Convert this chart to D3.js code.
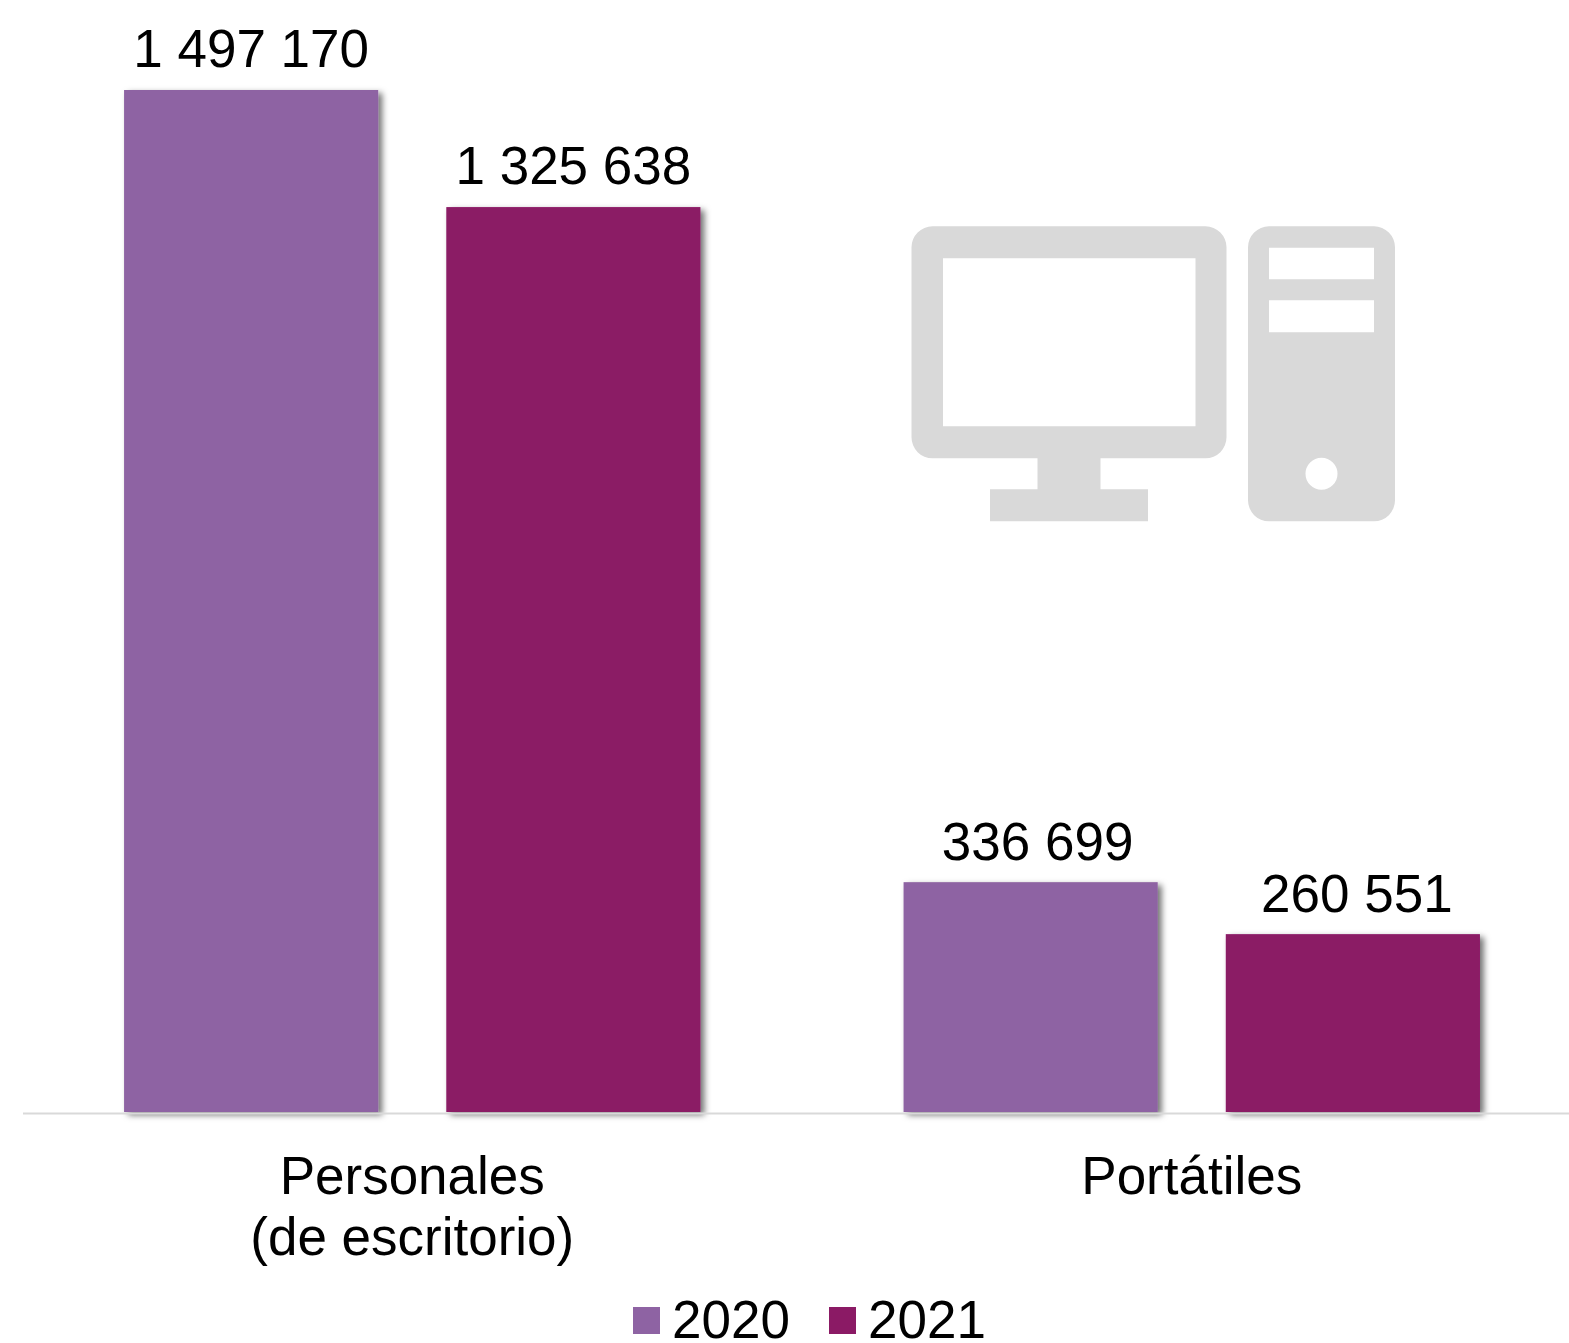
<!DOCTYPE html>
<meta charset="utf-8">
<style>
body { margin: 0; background: #fff; }
svg { display: block; }
text { font-family: "Liberation Sans", Arial, sans-serif; fill: #000; }
.value, .legend-text { font-size: 53px; }
.axis text { font-size: 53px; }
.axis path { stroke: #d9d9d9; stroke-width: 2; }
.icon { fill: #d9d9d9; fill-rule: evenodd; }
</style>
<svg width="1569" height="1343"></svg>
<script src="https://cdn.jsdelivr.net/npm/d3@7"></script>
<script>
var categories = ["Personales|(de escritorio)", "Portátiles"];
var years = ["2020", "2021"];
var values2020 = [1497170, 336699];
var values2021 = [1325638, 260551];
var yearColors = ["#8e63a3", "#8b1a65"];
// the 2 labels on the right are not centred on their bars in the original
var labelShift2020 = [0, 7];
var labelShift2021 = [0, 4];
var labelDrop = [0, 1];

var svg = d3.select("svg");
var baseline = 1112;

var x0 = d3.scaleBand()
    .domain(categories)
    .range([22.5, 1581.5])
    .paddingInner(0.2606)
    .paddingOuter(0.1303);

var x1 = d3.scaleBand()
    .domain(years)
    .range([0, x0.bandwidth()])
    .paddingInner(0.2113);

var y = d3.scaleLinear()
    .domain([0, d3.max(values2020)])
    .range([baseline, 90]);

var color = d3.scaleOrdinal().domain(years).range(yearColors);

var fmt = d3.formatLocale({ decimal: ",", thousands: " ", grouping: [3], currency: ["", ""] }).format(",d");

var defs = svg.append("defs");
var shadow = defs.append("filter")
    .attr("id", "bar-shadow")
    .attr("x", "-10%").attr("y", "-5%")
    .attr("width", "120%").attr("height", "110%");
shadow.append("feDropShadow")
    .attr("dx", 4).attr("dy", 3)
    .attr("stdDeviation", 3)
    .attr("flood-color", "#000")
    .attr("flood-opacity", 0.55);

var rows = [];
years.forEach(function(year, i) {
  var vals = i == 0 ? values2020 : values2021;
  var shift = i == 0 ? labelShift2020 : labelShift2021;
  categories.forEach(function(cat, j) {
    rows.push({ year: year, cat: cat, value: vals[j], shift: shift[j], drop: labelDrop[j] });
  });
});

// bars
svg.append("g")
  .selectAll("rect")
  .data(rows)
  .enter().append("rect")
    .attr("x", function(d) { return x0(d.cat) + x1(d.year); })
    .attr("y", function(d) { return y(d.value); })
    .attr("width", x1.bandwidth())
    .attr("height", function(d) { return y(0) - y(d.value); })
    .attr("fill", function(d) { return color(d.year); })
    .attr("filter", "url(#bar-shadow)");

// axis
var axis = svg.append("g")
    .attr("class", "axis")
    .attr("transform", "translate(0," + (baseline + 1) + ")")
    .call(d3.axisBottom(x0).tickSize(0).tickSizeOuter(0).tickFormat(""));

axis.selectAll(".tick text").each(function(d) {
  var t = d3.select(this).attr("y", null).attr("dy", null).attr("text-anchor", "middle");
  d.split("|").forEach(function(line, i) {
    t.append("tspan")
        .attr("x", 0)
        .attr("y", 81 + i * 61)
        .text(line);
  });
});

// value labels
svg.append("g")
  .selectAll("text")
  .data(rows)
  .enter().append("text")
    .attr("class", "value")
    .attr("text-anchor", "middle")
    .attr("x", function(d) { return x0(d.cat) + x1(d.year) + x1.bandwidth() / 2 + d.shift; })
    .attr("y", function(d) { return y(d.value) - 23 + d.drop; })
    .text(function(d) { return fmt(d.value); });

// computer icon
var monitor = "M932 226H1205a21 21 0 0 1 21 21V437a21 21 0 0 1 -21 21H1100V489H1147.5V521H989.5V489H1037V458H932a21 21 0 0 1 -21 -21V247a21 21 0 0 1 21 -21Z"
    + "M942.5 258V426H1195V258Z";
var tower = "M1268.5 226H1373.5a21 21 0 0 1 21 21V500a21 21 0 0 1 -21 21H1268.5a21 21 0 0 1 -21 -21V247a21 21 0 0 1 21 -21Z"
    + "M1268.5 247.5V279H1373.5V247.5Z"
    + "M1268.5 300V332H1373.5V300Z"
    + "M1305 473.5a16 16 0 1 0 32 0a16 16 0 1 0 -32 0Z";
var icon = svg.append("g")
    .attr("class", "icon")
    .attr("transform", "translate(0.5,0.3)");
icon.append("path").attr("d", monitor);
icon.append("path").attr("d", tower);

// legend
var legendX = d3.scaleOrdinal().domain(years).range([633, 829]);
var legend = svg.append("g")
  .selectAll("g")
  .data(years)
  .enter().append("g")
    .attr("transform", function(d) { return "translate(" + legendX(d) + ",1307)"; });
legend.append("rect")
    .attr("width", 27)
    .attr("height", 27)
    .attr("fill", function(d) { return color(d); });
legend.append("text")
    .attr("class", "legend-text")
    .attr("x", 39)
    .attr("y", 31)
    .text(function(d) { return d; });
</script>
